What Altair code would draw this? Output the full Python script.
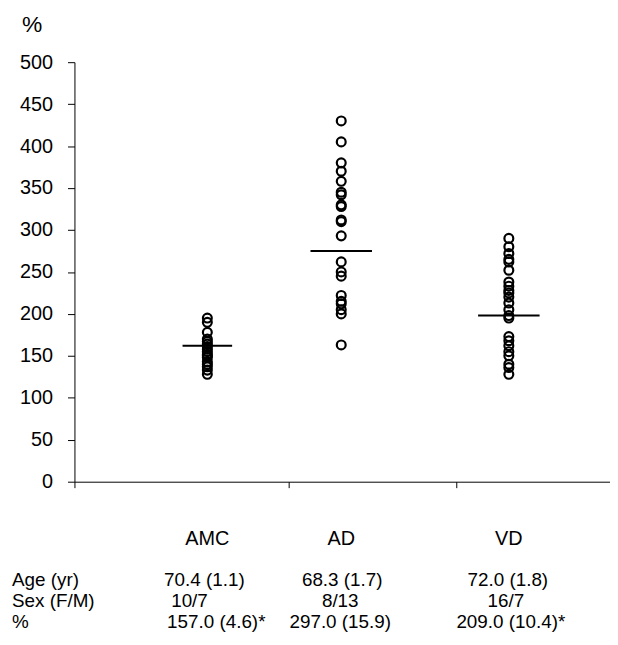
import altair as alt
import pandas as pd

# ---- data ----
groups = ["AMC", "AD", "VD"]
amc_values = [195, 190, 178, 170, 167, 164, 161, 158, 155, 152, 150, 148, 143, 140, 137, 133, 128]
ad_values = [430, 405, 380, 370, 358, 345, 342, 330, 328, 312, 310, 293, 262, 250, 245, 222, 215, 212, 205, 200, 163]
vd_values = [290, 280, 272, 265, 262, 252, 238, 233, 228, 225, 220, 213, 205, 198, 195, 173, 168, 162, 155, 150, 140, 136, 128]
center_lines = [162, 275, 198]
age_row = ["70.4 (1.1)", "68.3 (1.7)", "72.0 (1.8)"]
sex_row = ["10/7", "8/13", "16/7"]
pct_row = ["157.0 (4.6)*", "297.0 (15.9)", "209.0 (10.4)*"]
row_labels = ["Age (yr)", "Sex (F/M)", "%"]
y_ticks = list(range(0, 501, 50))

# ---- layout (pixel units along the x axis) ----
W, H = 540, 423
group_x = {"AMC": 134, "AD": 269, "VD": 438}
line_half = {"AMC": 25, "AD": 31, "VD": 31}
x_tick_pos = [0, 216, 385]
age_x = {"AMC": 131, "AD": 270, "VD": 437}
sex_x = {"AMC": 116, "AD": 268, "VD": 435}
pct_x = {"AMC": 143, "AD": 268, "VD": 440}
row_y = [522, 543.5, 565]

FONT = "Liberation Sans"
FS = 20
TFS = 19

vals = {"AMC": amc_values, "AD": ad_values, "VD": vd_values}
pts = pd.DataFrame(
    [{"group": g, "value": v, "xp": group_x[g]} for g in groups for v in vals[g]]
)
lines = pd.DataFrame(
    [{"group": g, "center": c, "x1": group_x[g] - line_half[g], "x2": group_x[g] + line_half[g]}
     for g, c in zip(groups, center_lines)]
)
xscale = alt.Scale(domain=[0, W], nice=False, zero=False)
yscale = alt.Scale(domain=[0, 500], nice=False)

x_axis = alt.Axis(values=x_tick_pos, labels=False, title=None, grid=False,
                  tickSize=6, tickColor="black", domainColor="black",
                  tickWidth=1, domainWidth=1)
y_axis = alt.Axis(values=y_ticks, title=None, grid=False, tickSize=7,
                  tickColor="black", domainColor="black", labelFont=FONT,
                  labelFontSize=FS, labelColor="black", labelPadding=15,
                  tickWidth=1, domainWidth=1)

points = alt.Chart(pts).mark_point(
    shape="circle", filled=False, size=80, stroke="black", strokeWidth=2.2, opacity=1
).encode(
    x=alt.X("xp:Q", scale=xscale, axis=x_axis),
    y=alt.Y("value:Q", scale=yscale, axis=y_axis),
)

rules = alt.Chart(lines).mark_rule(color="black", strokeWidth=2).encode(
    x=alt.X("x1:Q", scale=xscale),
    x2="x2:Q",
    y=alt.Y("center:Q", scale=yscale),
)

def text_row(labels, xmap, ypix, fs):
    df = pd.DataFrame({"t": labels, "xp": [xmap[g] for g in groups]})
    return alt.Chart(df).mark_text(
        font=FONT, fontSize=fs, color="black", align="center", baseline="middle"
    ).encode(x=alt.X("xp:Q", scale=xscale), y=alt.value(ypix), text="t:N")

grp_text = text_row(groups, group_x, 481, FS)
age_text = text_row(age_row, age_x, row_y[0], TFS)
sex_text = text_row(sex_row, sex_x, row_y[1], TFS)
pct_text = text_row(pct_row, pct_x, row_y[2], TFS)

row_df = pd.DataFrame({"t": row_labels, "yp": row_y})
row_text = alt.Chart(row_df).mark_text(
    font=FONT, fontSize=TFS, color="black", align="left", baseline="middle"
).encode(x=alt.value(-63), y=alt.Y("yp:Q", scale=None), text="t:N")

pct_title = alt.Chart(pd.DataFrame({"t": ["%"]})).mark_text(
    font=FONT, fontSize=23, color="black", align="left", baseline="middle"
).encode(x=alt.value(-53), y=alt.value(-37), text="t:N")

chart = alt.layer(points, rules, grp_text, age_text, sex_text, pct_text, row_text, pct_title).properties(
    width=W, height=H,
    background="white",
    autosize=alt.AutoSizeParams(type="none"),
    padding={"left": 67, "top": 52, "right": 0, "bottom": 160},
).configure_view(stroke=None)

chart.save("out.html", embed_options={"renderer": "svg", "actions": False})
